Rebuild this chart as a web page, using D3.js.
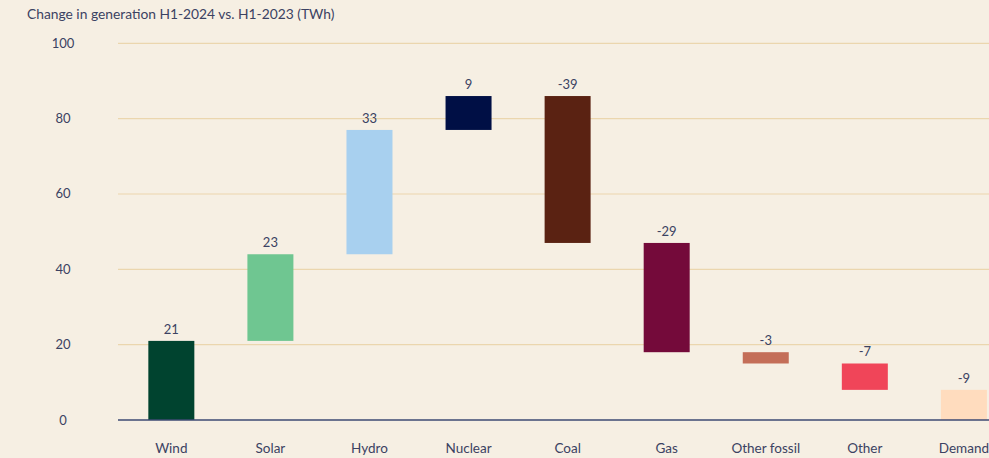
<!DOCTYPE html>
<html>
<head>
<meta charset="utf-8">
<script src="https://cdn.jsdelivr.net/npm/d3@7"></script>
<style>
  html, body { margin: 0; padding: 0; background: #f6efe3; }
  svg { display: block; font-family: Lato, "Open Sans", sans-serif; }
</style>
</head>
<body>
<svg id="chart" width="989" height="458"></svg>
<script>
const categories = ["Wind", "Solar", "Hydro", "Nuclear", "Coal", "Gas", "Other fossil", "Other", "Demand"];
const changes = [21, 23, 33, 9, -39, -29, -3, -7, -9];
const colors = ["#00432f", "#6fc691", "#a8d0ef", "#000f45", "#5a2212", "#740a3a", "#c46e58", "#f04559", "#ffdcbe"];
const yTicks = [0, 20, 40, 60, 80, 100];
const title = "Change in generation H1-2024 vs. H1-2023 (TWh)";

const W = 989, H = 458;
const svg = d3.select("#chart");
svg.append("rect").attr("width", W).attr("height", H).attr("fill", "#f6efe3");

// cumulative waterfall
let run = 0;
const bars = categories.map((c, i) => {
  const start = run;
  run += changes[i];
  return { cat: c, start, end: run, change: changes[i], color: colors[i] };
});

const step = 99.07;
const pInner = 1 - 46 / step;
const x0 = 121.8;
const x = d3.scaleBand()
  .domain(categories)
  .range([x0, x0 + step * categories.length])
  .paddingInner(pInner)
  .paddingOuter(pInner / 2);

const y = d3.scaleLinear().domain([0, 100]).range([420, 43.3]).clamp(true);

// gridlines
const grid = svg.append("g");
grid.selectAll("line").data(yTicks.filter(d => d !== 0)).join("line")
  .attr("x1", 118).attr("x2", W)
  .attr("y1", d => y(d)).attr("y2", d => y(d))
  .attr("stroke", "#ebd6ae").attr("stroke-width", 1.2);

// y tick labels
svg.append("g").selectAll("text").data(yTicks).join("text")
  .attr("x", 63).attr("y", d => y(d) + 4.5)
  .attr("text-anchor", "middle")
  .attr("font-size", 13)
  .attr("fill", "#3b4262")
  .text(d => d);

// bars
svg.append("g").selectAll("rect").data(bars).join("rect")
  .attr("x", d => x(d.cat))
  .attr("width", x.bandwidth())
  .attr("y", d => y(Math.max(d.start, d.end)))
  .attr("height", d => Math.abs(y(d.start) - y(d.end)))
  .attr("fill", d => d.color);

// value labels
svg.append("g").selectAll("text").data(bars).join("text")
  .attr("x", d => x(d.cat) + x.bandwidth() / 2)
  .attr("y", d => y(Math.max(d.start, d.end)) - 7)
  .attr("text-anchor", "middle")
  .attr("font-size", 13)
  .attr("fill", "#3b4262")
  .text(d => d.change);

// baseline
svg.append("line")
  .attr("x1", 118).attr("x2", W)
  .attr("y1", y(0)).attr("y2", y(0))
  .attr("stroke", "#3d4a73").attr("stroke-width", 1.3);

// x axis labels
svg.append("g").selectAll("text").data(categories).join("text")
  .attr("x", d => x(d) + x.bandwidth() / 2)
  .attr("y", 453)
  .attr("text-anchor", "middle")
  .attr("font-size", 13.5)
  .attr("fill", "#3b4262")
  .text(d => d);

// title
svg.append("text")
  .attr("x", 27).attr("y", 19)
  .attr("font-size", 13.8)
  .attr("fill", "#3b4262")
  .text(title);
</script>
</body>
</html>
